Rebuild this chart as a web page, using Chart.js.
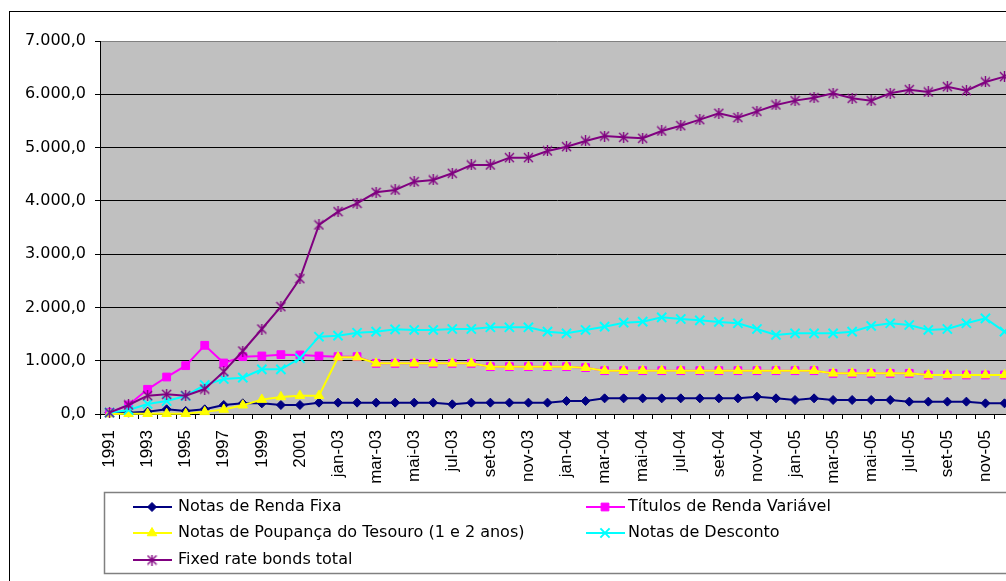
<!DOCTYPE html>
<html>
<head>
<meta charset="utf-8">
<script src="https://cdn.jsdelivr.net/npm/chart.js@4/dist/chart.umd.min.js"></script>
<style>
html, body { margin: 0; padding: 0; overflow: hidden; background: #fff; }
#wrap { position: absolute; left: 0; top: 0; width: 1040px; height: 581px; }
</style>
</head>
<body>
<div id="wrap"><canvas id="grafico"></canvas></div>
<script>
// categorias do eixo X
const categorias = ['1991', '1992', '1993', '1994', '1995', '1996', '1997', '1998', '1999', '2000', '2001', '2002',
    'jan-03', 'fev-03', 'mar-03', 'abr-03', 'mai-03', 'jun-03', 'jul-03', 'ago-03', 'set-03', 'out-03', 'nov-03', 'dez-03',
    'jan-04', 'fev-04', 'mar-04', 'abr-04', 'mai-04', 'jun-04', 'jul-04', 'ago-04', 'set-04', 'out-04', 'nov-04', 'dez-04',
    'jan-05', 'fev-05', 'mar-05', 'abr-05', 'mai-05', 'jun-05', 'jul-05', 'ago-05', 'set-05', 'out-05', 'nov-05', 'dez-05'];

// séries
const rendaFixa = [25, 25, 44, 88, 57, 88, 169, 200, 200, 169, 169, 213,
    213, 213, 213, 213, 213, 213, 182, 213, 213, 213, 213, 213,
    244, 244, 294, 294, 294, 294, 294, 294, 294, 294, 325, 294,
    263, 294, 263, 263, 263, 263, 232, 232, 232, 232, 200, 200];
const rendaVariavel = [25, 169, 463, 694, 907, 1289, 957, 1076, 1089, 1114, 1108, 1089,
    1076, 1076, 951, 951, 951, 951, 951, 951, 888, 888, 888, 888,
    888, 870, 813, 813, 813, 813, 813, 813, 813, 813, 813, 813,
    813, 813, 763, 763, 763, 763, 763, 732, 732, 732, 732, 732];
const poupancaTesouro = [0, 5, 5, 5, 5, 40, 85, 165, 270, 320, 344, 344,
    1064, 1064, 951, 951, 951, 951, 951, 951, 888, 888, 888, 888,
    888, 870, 813, 813, 813, 813, 813, 813, 813, 813, 813, 813,
    813, 813, 763, 763, 763, 763, 763, 732, 732, 732, 732, 732];
const notasDesconto = [25, 75, 188, 244, 338, 544, 657, 682, 838, 838, 1045, 1451,
    1470, 1526, 1545, 1589, 1577, 1577, 1595, 1595, 1627, 1627, 1627, 1545,
    1514, 1577, 1639, 1714, 1733, 1814, 1783, 1758, 1727, 1702, 1595, 1483,
    1514, 1514, 1514, 1545, 1652, 1702, 1670, 1577, 1595, 1702, 1795, 1545];
const totalFixo = [25, 169, 344, 369, 344, 469, 795, 1182, 1595, 2014, 2540, 3547,
    3797, 3954, 4160, 4204, 4360, 4392, 4517, 4673, 4673, 4811, 4811, 4936,
    5017, 5124, 5217, 5192, 5174, 5311, 5411, 5524, 5643, 5562, 5680, 5799,
    5881, 5937, 6018, 5924, 5881, 6018, 6087, 6043, 6143, 6068, 6231, 6331];

// eixo Y
const yMin = 0, yMax = 7000, yPasso = 1000;

function formatarBR(v) {
    return Math.round(v).toString().replace(/\B(?=(\d{3})+(?!\d))/g, '.') + ',0';
}

// marcador estrela (X + traço vertical) como no Excel
function marcadorEstrela(cor) {
    const c = document.createElement('canvas');
    c.width = 11; c.height = 11;
    const g = c.getContext('2d');
    g.strokeStyle = cor;
    g.lineWidth = 1.4;
    g.beginPath();
    g.moveTo(1, 1); g.lineTo(10, 10);
    g.moveTo(10, 1); g.lineTo(1, 10);
    g.moveTo(5.5, 0); g.lineTo(5.5, 11);
    g.stroke();
    return c;
}

Chart.defaults.font.family = '"DejaVu Sans", sans-serif';
Chart.defaults.font.size = 16;
Chart.defaults.color = '#000';

const fundo = {
    id: 'fundo',
    beforeDraw(chart) {
        const { ctx, chartArea: a } = chart;
        ctx.save();
        ctx.fillStyle = '#fff';
        ctx.fillRect(0, 0, chart.width, chart.height);
        ctx.strokeStyle = '#000';
        ctx.lineWidth = 1;
        ctx.strokeRect(9.5, 11.5, chart.width, chart.height);
        ctx.fillStyle = '#c0c0c0';
        ctx.fillRect(a.left, a.top, a.right - a.left, a.bottom - a.top);
        ctx.restore();
    }
};

const legenda = {
    id: 'legenda',
    afterDraw(chart) {
        const ctx = chart.ctx;
        ctx.save();
        ctx.strokeStyle = '#808080';
        ctx.lineWidth = 1.5;
        ctx.strokeRect(104.5, 492.5, chart.width, 81);
        // [inicio da linha, inicio do texto, y]
        const pos = [[133, 178, 507], [586, 628, 507], [133, 178, 533], [586, 628, 533], [133, 178, 560]];
        chart.data.datasets.forEach((ds, i) => {
            const [x, tx, y] = pos[i];
            ctx.strokeStyle = ds.borderColor;
            ctx.lineWidth = 2;
            ctx.beginPath();
            ctx.moveTo(x, y);
            ctx.lineTo(x + 39, y);
            ctx.stroke();
            ctx.fillStyle = ds.pointBackgroundColor;
            ctx.strokeStyle = ds.pointBorderColor;
            ctx.lineWidth = ds.pointBorderWidth;
            Chart.helpers.drawPoint(ctx, {
                pointStyle: ds.pointStyle, radius: ds.pointRadius, rotation: 0, borderWidth: ds.pointBorderWidth
            }, x + 19, y);
            ctx.fillStyle = '#000';
            ctx.font = '16px "DejaVu Sans"';
            ctx.textBaseline = 'middle';
            ctx.textAlign = 'left';
            ctx.fillText(ds.label, tx, y);
        });
        ctx.restore();
    }
};

function serie(label, data, cor, estilo, raio, ordem, bw) {
    return {
        label: label,
        data: data,
        borderColor: cor,
        backgroundColor: cor,
        borderWidth: 2,
        pointStyle: estilo,
        pointRadius: raio,
        pointHoverRadius: raio,
        pointBackgroundColor: cor,
        pointBorderColor: cor,
        pointBorderWidth: bw,
        tension: 0,
        clip: false,
        order: ordem
    };
}

const ctx = document.getElementById('grafico').getContext('2d');
const grafico = new Chart(ctx, {
    type: 'line',
    data: {
        labels: categorias,
        datasets: [
            serie('Notas de Renda Fixa', rendaFixa, '#000080', 'rectRot', 4.5, 5, 1),
            serie('Títulos de Renda Variável', rendaVariavel, '#ff00ff', 'rect', 5.5, 4, 1),
            serie('Notas de Poupança do Tesouro (1 e 2 anos)', poupancaTesouro, '#ffff00', 'triangle', 5.5, 3, 1),
            serie('Notas de Desconto', notasDesconto, '#00ffff', 'crossRot', 6.5, 2, 2),
            serie('Fixed rate bonds total', totalFixo, '#800080', marcadorEstrela('#800080'), 5.5, 1, 1)
        ]
    },
    options: {
        responsive: true,
        maintainAspectRatio: false,
        animation: false,
        events: [],
        layout: { padding: { left: 0, top: 41, right: 26, bottom: 0 } },
        plugins: {
            legend: { display: false },
            tooltip: { enabled: false }
        },
        scales: {
            x: {
                offset: true,
                afterFit: (s) => { s.height = 167; },
                grid: { offset: true, drawOnChartArea: false, drawTicks: true, tickLength: 5, tickColor: '#000' },
                border: { color: '#000', width: 1 },
                ticks: {
                    autoSkip: false,
                    minRotation: 90,
                    maxRotation: 90,
                    padding: 11,
                    color: '#000',
                    font: { family: '"Liberation Sans", Arial, sans-serif', size: 17 },
                    callback: function(value, index) {
                        return index % 2 === 0 ? this.getLabelForValue(value) : '';
                    }
                }
            },
            y: {
                min: yMin,
                max: yMax,
                afterFit: (s) => { s.width = 100; },
                grid: {
                    color: (c) => c.tick && c.tick.value === yMax ? '#808080' : '#000',
                    tickColor: '#000',
                    tickLength: 5,
                    drawTicks: true
                },
                border: { color: '#000', width: 1 },
                ticks: {
                    stepSize: yPasso,
                    padding: 9,
                    color: '#000',
                    font: { size: 16 },
                    callback: (v) => formatarBR(v)
                }
            }
        }
    },
    plugins: [fundo, legenda]
});
</script>
</body>
</html>
